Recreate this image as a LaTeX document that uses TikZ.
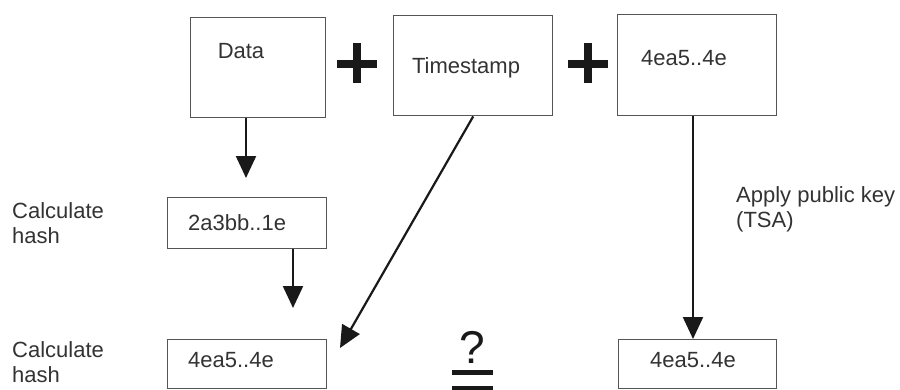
\documentclass[tikz,border=0pt]{standalone}
\usepackage{fontspec}
\setmainfont{Liberation Sans}
\usetikzlibrary{arrows.meta,calc}
\definecolor{boxline}{HTML}{555555}
\definecolor{ink}{HTML}{333333}
\begin{document}
\begin{tikzpicture}[x=1pt,y=-1pt,
  box/.style={draw=boxline,line width=1.4pt,inner sep=0pt,anchor=north west},
  txt/.style={text=ink,font=\fontsize{22}{25}\selectfont,inner sep=0pt},
  arr/.style={line width=2.2pt,draw=black!90,-{Triangle[width=20pt,length=22pt]}},
  plus/.style={line width=7.5pt,draw=black!90},
  eqbar/.style={line width=5pt,draw=black!90}]
\useasboundingbox[fill=white] (0,0) rectangle (900,389);

% top row: the three inputs
\node[box,minimum width=135pt,minimum height=100pt] (data) at (190,17) {};
\node[box,minimum width=159pt,minimum height=100pt] (ts) at (393,15) {};
\node[box,minimum width=159pt,minimum height=101pt] (key) at (617,14) {};
\node[txt,anchor=base] (tdata) at (241,58) {Data};
\node[txt,anchor=base] (tts) at (466,73) {Timestamp};
\node[txt,anchor=base] (tkey) at (684,65) {4ea5..4e};

% plus signs between the inputs
\draw[plus] (337,64) -- (377,64) (357,43) -- (357,83);
\draw[plus] (568,64) -- (608,64) (588,43) -- (588,83);

% hash results
\node[box,minimum width=159pt,minimum height=51pt] (h1) at (167,197) {};
\node[box,minimum width=159pt,minimum height=49pt] (h2) at (167,339) {};
\node[box,minimum width=158pt,minimum height=49pt] (r) at (618,339) {};
\node[txt,anchor=base west] (th1) at (188,230) {2a3bb..1e};
\node[txt,anchor=base west] (th2) at (188,367) {4ea5..4e};
\node[txt,anchor=base] (tr) at (693,367) {4ea5..4e};

% side labels (base anchor sits on the last line)
\node[txt,anchor=base west,align=left] (c1) at (12,243) {Calculate\\hash};
\node[txt,anchor=base west,align=left] (c2) at (12,382) {Calculate\\hash};
\node[txt,anchor=base west,align=left] (apply) at (736,227) {Apply public key\\(TSA)};

% arrows
\coordinate (dtip) at (246,178);
\draw[arr] (data.south -| dtip) -- (dtip);
\coordinate (htip) at (293,308);
\draw[arr] (h1.south -| htip) -- (htip);
\coordinate (ttip) at (340,348);
\draw[arr] (ts.south) -- (ttip);
\coordinate (kx) at (693,0);
\draw[arr] (key.south -| kx) -- (r.north -| kx);

% questioned equality
\node[anchor=base,inner sep=0pt,text=black!90,font=\fontsize{46}{46}\selectfont] (q) at (472,363) {?};
\draw[eqbar] (452,372) -- (493,372) (452,388) -- (493,388);
\end{tikzpicture}
\end{document}
